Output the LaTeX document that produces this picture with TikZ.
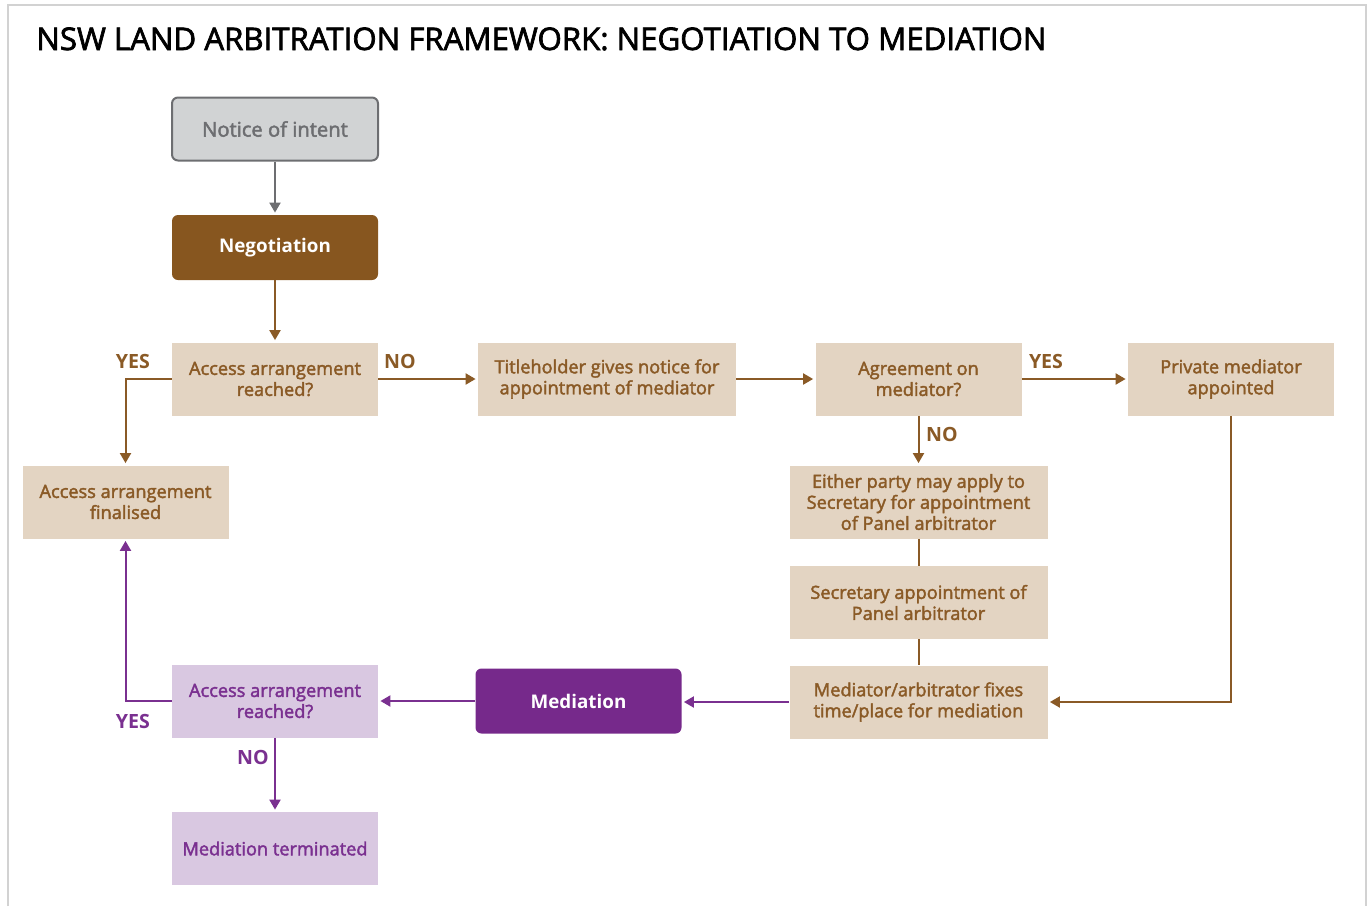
\documentclass[tikz,border=0pt]{standalone}
\usepackage{fontspec}
\setmainfont{Open Sans}
\newfontfamily\medfont{Open Sans}[FakeBold=2.2]
\usetikzlibrary{arrows.meta}

\definecolor{brownfill}{HTML}{87561F}
\definecolor{browntext}{HTML}{8A5A26}
\definecolor{beige}{HTML}{E3D4C2}
\definecolor{purplefill}{HTML}{76298B}
\definecolor{purpletext}{HTML}{7A3090}
\definecolor{lilac}{HTML}{D9C8E1}
\definecolor{greyfill}{HTML}{D1D3D4}
\definecolor{greyline}{HTML}{6D6E71}

\begin{document}
\begin{tikzpicture}[
    x=0.5pt, y=-0.5pt,
    box/.style={rectangle, align=center, inner sep=2pt,
        minimum width=103pt, minimum height=36.5pt, font=\medfont\fontsize{9.1}{10.5}\selectfont},
    widebox/.style={box, minimum width=129pt},
    step brown/.style={box, fill=beige, text=browntext},
    step purple/.style={box, fill=lilac, text=purpletext},
    stage/.style={box, rounded corners=3pt, minimum height=32.5pt,
        text=white, font=\fontsize{9.4}{11}\selectfont\bfseries},
    answer/.style={font=\fontsize{9.8}{11}\selectfont\bfseries},
    brline/.style={draw=browntext, line width=1pt},
    brarrow/.style={brline, -{Triangle[length=5pt,width=5.5pt]}, shorten >=1pt},
    puline/.style={draw=purpletext, line width=1pt},
    puarrow/.style={puline, -{Triangle[length=5pt,width=5.5pt]}, shorten >=1pt}
]
    \useasboundingbox (0,0) rectangle (1370,906);
    % frame
    \draw[gray!35, line width=0.8pt] (8,906) -- (8,5) -- (1366,5) -- (1366,906);
    \node[anchor=base west, inner sep=0pt, font=\medfont\fontsize{15.6}{18}\selectfont] (title) at (36,50)
        {NSW LAND ARBITRATION FRAMEWORK: NEGOTIATION TO MEDIATION};

    % boxes
    \node[box, draw=greyline, line width=1pt, fill=greyfill, text=greyline, rounded corners=3pt,
        minimum height=31.5pt, font=\medfont\fontsize{10.1}{12}\selectfont] (notice) at (275,129) {Notice of intent};
    \node[stage, fill=brownfill] (negotiation) at (275,247.5) {Negotiation};
    \node[step brown] (reached) at (275,379) {Access arrangement\\reached?};
    \node[step brown, widebox] (notice2) at (607,379) {Titleholder gives notice for\\appointment of mediator};
    \node[step brown] (agreement) at (918.5,379) {Agreement on\\mediator?};
    \node[step brown] (private) at (1231,379) {Private mediator\\appointed};
    \node[step brown] (finalised) at (125.5,502) {Access arrangement\\finalised};
    \node[step brown, widebox] (apply) at (918.5,502) {Either party may apply to\\Secretary for appointment\\of Panel arbitrator};
    \node[step brown, widebox] (secretary) at (918.5,602.5) {Secretary appointment of\\Panel arbitrator};
    \node[step brown, widebox] (fixes) at (918.5,702) {Mediator/arbitrator fixes\\time/place for mediation};
    \node[stage, fill=purplefill] (mediation) at (578.5,701) {Mediation};
    \node[step purple] (reached2) at (275,701) {Access arrangement\\reached?};
    \node[step purple] (terminated) at (275,848.5) {Mediation terminated};

    % answers
    \node[answer, text=browntext] (yes1) at (133,361) {YES};
    \node[answer, text=browntext] (no1) at (400,361) {NO};
    \node[answer, text=browntext] (yes2) at (1046,361) {YES};
    \node[answer, text=browntext] (no2) at (942,434) {NO};
    \node[answer, text=purpletext] (yes3) at (133,721) {YES};
    \node[answer, text=purpletext] (no3) at (253,757) {NO};

    % connectors
    \draw[line width=1pt, draw=greyline, -{Triangle[length=5pt,width=5.5pt]}, shorten >=1pt]
        (notice) -- (negotiation);
    \draw[brarrow] (negotiation) -- (reached);
    \draw[brarrow] (reached) -- (notice2);
    \draw[brarrow] (notice2) -- (agreement);
    \draw[brarrow] (agreement) -- (private);
    \draw[brarrow] (agreement) -- (apply);
    \draw[brarrow] (reached.west) -| (finalised.north);
    \draw[brline] (apply) -- (secretary);
    \draw[brline] (secretary) -- (fixes);
    \draw[brarrow] (private.south) |- (fixes.east);
    \draw[puarrow] (fixes.west) -- (fixes.west -| mediation.east);
    \draw[puarrow] (mediation) -- (reached2);
    \draw[puarrow] (reached2.west) -| (finalised.south);
    \draw[puarrow] (reached2) -- (terminated);
\end{tikzpicture}
\end{document}
